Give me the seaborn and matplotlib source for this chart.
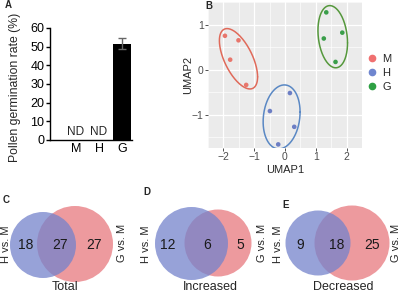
import numpy as np
import pandas as pd
import matplotlib
matplotlib.use('Agg')
import matplotlib.pyplot as plt
import seaborn as sns
from matplotlib.patches import Circle
from matplotlib.lines import Line2D

# panel A: pollen germination
groups = ['M', 'H', 'G']
germ_rate = [0, 0, 51.5]
germ_err = [0, 0, 3.0]
not_detected = [True, True, False]

# panel B: UMAP
umap_group = ['M'] * 4 + ['H'] * 4 + ['G'] * 4
umap1 = [-1.95, -1.51, -1.78, -1.26, 0.16, -0.49, 0.30, -0.22, 1.34, 1.86, 1.26, 1.64]
umap2 = [0.75, 0.65, 0.22, -0.34, -0.52, -0.92, -1.27, -1.66, 1.27, 0.82, 0.69, 0.17]
# ellipse per group: centre, half extent along x / y, correlation
ell_cx = [-1.51, -0.11, 1.55]
ell_cy = [0.24, -1.05, 0.73]
ell_rx = [0.62, 0.60, 0.48]
ell_ry = [0.67, 0.71, 0.69]
ell_rho = [-0.6, 0.15, -0.2]

# panels C-E: venn counts
venn_titles = ['Total', 'Increased', 'Decreased']
venn_letters = ['C', 'D', 'E']
h_only = [18, 12, 9]
both = [27, 6, 18]
g_only = [27, 5, 25]

pt_colors = {'M': '#E8766C', 'H': '#6C7EC4', 'G': '#3A9E4A'}
ell_colors = {'M': '#E06A5A', 'H': '#5A88C4', 'G': '#55983C'}
leg_colors = {'M': '#F07070', 'H': '#6F86CF', 'G': '#2EA043'}

sns.set_theme(style='ticks')
plt.rcParams['font.family'] = ['Liberation Sans', 'DejaVu Sans']

W, H = 400, 293
fig = plt.figure(figsize=(4, 2.93), dpi=100)


def px_axes(x0, y0, x1, y1):
    return fig.add_axes([x0 / W, 1 - y1 / H, (x1 - x0) / W, (y1 - y0) / H])


# ---------------- A
ax = px_axes(50, 28, 132, 140)
sns.barplot(x=groups, y=germ_rate, color='black', width=0.78, ax=ax,
            edgecolor='black', linewidth=0)
ax.errorbar(2, germ_rate[2], yerr=germ_err[2], color='#666666', lw=1,
            capsize=3, capthick=1)
for i, nd in enumerate(not_detected):
    if nd:
        ax.text(i, 1.2, 'ND', ha='center', va='bottom', fontsize=8.5)
ax.set_xlim(-1.13, 2.43)
ax.set_ylim(0, 60)
ax.set_yticks(range(0, 61, 10))
for s in ['top', 'right']:
    ax.spines[s].set_visible(False)
for s in ['left', 'bottom']:
    ax.spines[s].set_linewidth(1.0)
    ax.spines[s].set_color('black')
ax.tick_params(axis='y', length=3, width=1, labelsize=9, pad=1, colors='black')
ax.tick_params(axis='x', length=0, labelsize=9, pad=2, colors='black')
ax.set_ylabel('Pollen germination rate (%)', fontsize=8.8, labelpad=6.5)
ax.yaxis.label.set_y(0.47)
fig.text(5 / W, 1 - 5 / H, 'A', fontsize=7, fontweight='bold', va='center')

# ---------------- B
bx = px_axes(208, 2, 362, 148)
bx.set_facecolor('#EBEBEB')
df = pd.DataFrame({'UMAP1': umap1, 'UMAP2': umap2, 'group': umap_group})
sns.scatterplot(data=df, x='UMAP1', y='UMAP2', hue='group', palette=pt_colors,
                s=11, linewidth=0, legend=False, ax=bx, zorder=3)
t = np.linspace(0, 2 * np.pi, 200)
for i, g in enumerate(groups):
    ex = ell_cx[i] + ell_rx[i] * np.cos(t)
    ey = ell_cy[i] + ell_ry[i] * (ell_rho[i] * np.cos(t) + np.sqrt(1 - ell_rho[i] ** 2) * np.sin(t))
    bx.plot(ex, ey, color=ell_colors[g], lw=1.1, zorder=2)
bx.set_xlim(-2.14, 2.08)
bx.set_ylim(-1.74, 1.40)
bx.set_xticks([-2, -1, 0, 1, 2])
bx.set_yticks([-1, 0, 1])
bx.set_xticks(np.arange(-2.5, 2.6, 1), minor=True)
bx.set_yticks(np.arange(-1.5, 1.6, 1), minor=True)
bx.grid(which='major', color='white', lw=0.9)
bx.grid(which='minor', color='white', lw=0.45)
bx.set_axisbelow(True)
for s in bx.spines.values():
    s.set_visible(False)
bx.tick_params(which='major', length=2, width=0.6, color='#333333',
               labelcolor='#4D4D4D', labelsize=7.5, pad=1)
bx.tick_params(which='minor', length=0)
bx.set_xlabel('UMAP1', fontsize=8, labelpad=2)
bx.set_ylabel('UMAP2', fontsize=8, labelpad=-0.5)
handles = [Line2D([], [], marker='o', ls='', color=leg_colors[g], markersize=4.5,
                  label=g) for g in groups]
bx.legend(handles=handles, loc='center left', bbox_to_anchor=(360 / W, 1 - 73 / H),
          bbox_transform=fig.transFigure, frameon=False, fontsize=8,
          handletextpad=0.3, labelspacing=0.35, handlelength=1.2,
          borderpad=0)
fig.text(205 / W, 1 - 6 / H, 'B', fontsize=7, fontweight='bold', va='center')

# ---------------- C-E venn diagrams (pixel space axes)
vx = px_axes(0, 185, 400, 293)
vx.set_xlim(0, W)
vx.set_ylim(293, 185)
vx.set_aspect('equal')
vx.axis('off')

blue_c = [(43, 245), (191.5, 243.5), (318, 243)]
blue_r = [33, 36.5, 32.5]
red_c = [(75, 244), (218, 243), (352, 243)]
red_r = [38, 33.5, 37.5]
num_x = [(26, 60, 94), (168, 207, 240), (300, 337, 372)]
side_x = [(6, 122), (146, 262), (278, 396)]
title_x = [65, 210, 343]
letter_xy = [(3, 200), (143, 192), (282, 205)]

for k in range(3):
    vx.add_patch(Circle(red_c[k], red_r[k], facecolor='#E8787E', alpha=0.75, lw=0))
    vx.add_patch(Circle(blue_c[k], blue_r[k], facecolor='#7483CC', alpha=0.75, lw=0))
    for xx, val in zip(num_x[k], [h_only[k], both[k], g_only[k]]):
        vx.text(xx, 245, str(val), ha='center', va='center', fontsize=10, color='#1A1A1A')
    vx.text(side_x[k][0], 244, 'H vs. M', rotation=90, ha='center', va='center', fontsize=8)
    vx.text(side_x[k][1], 243, 'G vs. M', rotation=90, ha='center', va='center', fontsize=8)
    vx.text(title_x[k], 287, venn_titles[k], ha='center', va='center', fontsize=9)
    vx.text(letter_xy[k][0], letter_xy[k][1], venn_letters[k], fontsize=7,
            fontweight='bold', va='center')

fig.savefig('out.png', dpi=100)
